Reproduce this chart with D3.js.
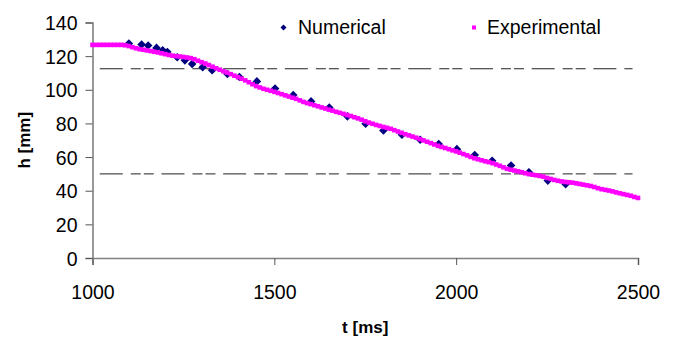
<!DOCTYPE html>
<html>
<head>
<meta charset="utf-8">
<script src="https://cdn.jsdelivr.net/npm/d3@7"></script>
<style>
  body { margin: 0; background: #fff; }
  svg { display: block; font-family: "Liberation Sans", Arial, sans-serif; }
</style>
</head>
<body>
<div id="chart"></div>
<script>
// Numerical series: time [ms] and height [mm]
const NUM_T = [1100, 1135, 1153, 1176, 1193, 1206, 1233, 1254, 1274, 1303, 1329, 1371, 1404,
    1452, 1502, 1552, 1601, 1651, 1701, 1751, 1800, 1851, 1901, 1952, 2002, 2051, 2099,
    2151, 2200, 2252, 2301];
const NUM_H = [127.5, 126.9, 126.3, 124.9, 123.5, 122.5, 119.3, 117.5, 115.4, 113.4, 111.6, 109.4, 107.6,
    105.0, 100.7, 96.9, 93.1, 89.5, 84.2, 79.8, 75.8, 73.3, 70.3, 67.7, 64.7, 61.2, 57.8,
    55.0, 51.0, 46.0, 43.9];

// Experimental series: sampled every 10 ms from 1000 ms
const EXP_T0 = 1000;
const EXP_DT = 10;
const EXP_H = [
    126.7, 126.7, 126.7, 126.7, 126.7, 126.7, 126.7, 126.7, 126.7, 126.5,
    126.0, 125.3, 124.7, 124.1, 123.8, 123.4, 123.0, 122.6, 122.2, 121.7,
    121.2, 120.7, 120.3, 120.0, 119.8, 119.5, 119.2, 118.8, 118.2, 117.3,
    116.4, 115.6, 114.7, 113.7, 112.8, 111.9, 111.0, 110.2, 109.3, 108.4,
    107.5, 106.6, 105.6, 104.5, 103.3, 102.2, 101.4, 100.6, 100.0, 99.4,
    98.8, 98.1, 97.4, 96.7, 96.0, 95.3, 94.6, 93.7, 92.8, 92.1,
    91.5, 90.8, 90.2, 89.5, 88.9, 88.2, 87.6, 86.9, 86.3, 85.7,
    85.0, 84.4, 83.7, 83.0, 82.2, 81.3, 80.5, 79.8, 79.1, 78.5,
    77.9, 77.4, 76.8, 76.0, 75.2, 74.4, 73.6, 72.9, 72.2, 71.5,
    70.7, 69.9, 69.1, 68.3, 67.5, 66.7, 66.0, 65.4, 64.7, 64.0,
    63.4, 62.6, 61.8, 61.0, 60.1, 59.3, 58.7, 58.1, 57.5, 57.0,
    56.4, 55.6, 54.8, 53.9, 53.0, 52.5, 52.0, 51.5, 51.0, 50.4,
    49.9, 49.5, 49.2, 48.8, 48.3, 47.6, 47.0, 46.4, 45.9, 45.5,
    45.2, 45.0, 44.8, 44.4, 44.0, 43.6, 43.2, 42.8, 42.2, 41.5,
    40.9, 40.5, 40.1, 39.6, 39.0, 38.5, 38.0, 37.5, 37.0, 36.3,
    35.7
];

// dash-dot reference levels [mm] and their time span [ms]
const REF_H = [112.5, 50];
const REF_T = [1020, 2485];

const X_TICKS = [1000, 1500, 2000, 2500];
const Y_TICKS = [0, 20, 40, 60, 80, 100, 120, 140];

const WIDTH = 676, HEIGHT = 340;
const MARGIN = { top: 22.5, right: 38, bottom: 82, left: 92.5 };
const FONT = 19.5;

const svg = d3.select("#chart").append("svg")
    .attr("width", WIDTH)
    .attr("height", HEIGHT);

const w = WIDTH - MARGIN.left - MARGIN.right;
const h = HEIGHT - MARGIN.top - MARGIN.bottom;

const g = svg.append("g")
    .attr("transform", `translate(${MARGIN.left},${MARGIN.top})`);

const x = d3.scaleLinear().domain([1000, 2500]).range([0, w]);
const y = d3.scaleLinear().domain([0, 140]).range([h, 0]);

// axes
const xAxis = g.append("g")
    .attr("transform", `translate(0,${h})`)
    .call(d3.axisBottom(x).tickValues(X_TICKS).tickSize(7).tickPadding(20).tickFormat(d3.format("d")));
const yAxis = g.append("g")
    .call(d3.axisLeft(y).tickValues(Y_TICKS).tickSize(7).tickPadding(8));

[xAxis, yAxis].forEach(ax => {
    ax.select(".domain").attr("stroke", "#808080").attr("stroke-width", 1.6);
    ax.selectAll(".tick line").attr("stroke", "#555");
    ax.selectAll(".tick text")
        .attr("fill", "#000")
        .style("font-size", FONT + "px")
        .style("font-family", '"Liberation Sans", Arial, sans-serif');
});
yAxis.selectAll(".tick text").attr("dy", "0.36em");

// reference lines
g.append("g").selectAll("line")
    .data(REF_H)
    .join("line")
    .attr("x1", x(REF_T[0]))
    .attr("x2", x(REF_T[1]))
    .attr("y1", d => y(d))
    .attr("y2", d => y(d))
    .attr("stroke", "#222")
    .attr("stroke-width", 1)
    .attr("stroke-dasharray", "23,8,10,3,10,7.7");

// Numerical diamonds
const diamond = "M0,-4.3L4.3,0L0,4.3L-4.3,0Z";
g.append("g").selectAll("path")
    .data(NUM_T.map((t, i) => [t, NUM_H[i]]))
    .join("path")
    .attr("d", diamond)
    .attr("transform", d => `translate(${x(d[0])},${y(d[1])})`)
    .attr("fill", "#000080");

// Experimental squares
const expData = EXP_H.map((v, i) => [EXP_T0 + i * EXP_DT, v]);
g.append("g").selectAll("rect")
    .data(expData)
    .join("rect")
    .attr("x", d => x(d[0]) - 2.3)
    .attr("y", d => y(d[1]) - 2.3)
    .attr("width", 4.6)
    .attr("height", 4.6)
    .attr("fill", "#ff00ff");

// axis titles
svg.append("text")
    .attr("x", MARGIN.left + w / 2)
    .attr("y", 333)
    .attr("text-anchor", "middle")
    .style("font-size", "17px")
    .style("font-weight", "bold")
    .text("t [ms]");

svg.append("text")
    .attr("transform", `translate(30, ${MARGIN.top + h / 2}) rotate(-90)`)
    .attr("text-anchor", "middle")
    .style("font-size", "17px")
    .style("font-weight", "bold")
    .text("h [mm]");

// legend
const legend = svg.append("g");
legend.append("path")
    .attr("d", "M0,-3L3,0L0,3L-3,0Z")
    .attr("transform", "translate(283.5,27.5)")
    .attr("fill", "#000080");
legend.append("text")
    .attr("x", 298).attr("y", 34)
    .style("font-size", FONT + "px")
    .text("Numerical");
legend.append("rect")
    .attr("x", 472).attr("y", 25.5)
    .attr("width", 4).attr("height", 4)
    .attr("fill", "#ff00ff");
legend.append("text")
    .attr("x", 487).attr("y", 34)
    .style("font-size", FONT + "px")
    .text("Experimental");
</script>
</body>
</html>
